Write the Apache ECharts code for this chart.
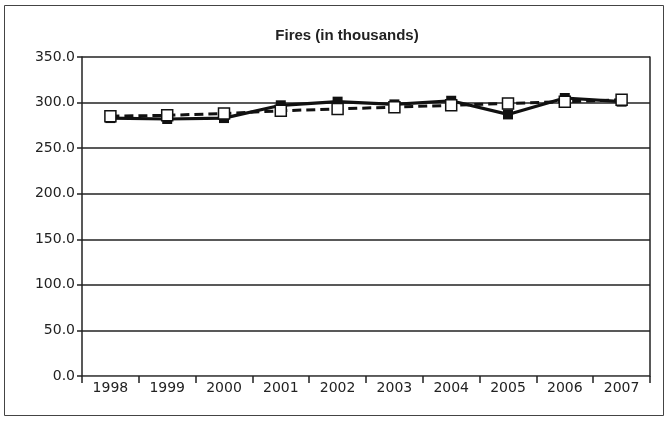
<!DOCTYPE html>
<html>
<head>
<meta charset="utf-8">
<script src="https://cdn.jsdelivr.net/npm/echarts@6/dist/echarts.min.js"></script>
<style>html,body{margin:0;padding:0;background:#fff}#c{width:668px;height:421px}</style>
</head>
<body>
<div id="c"></div>
<script>
const titleText = 'Fires (in thousands)';
const years = ['1998','1999','2000','2001','2002','2003','2004','2005','2006','2007'];
const firesActual = [283, 282, 283, 297, 301, 298, 302, 287, 305, 301];
const firesTrend = [285, 286, 288, 291, 293, 295, 297, 299, 301, 303];
const yMin = 0, yMax = 350, yStep = 50;

const chart = echarts.init(document.getElementById('c'), null, {renderer: 'canvas'});
const font = 'DejaVu Sans';
chart.setOption({
  animation: false,
  backgroundColor: '#fff',
  title: {
    text: titleText, left: 342, top: 23, textAlign: 'center',
    textStyle: {fontFamily: 'Liberation Sans', fontSize: 15, fontWeight: 'bold', color: '#222'}
  },
  graphic: [{
    type: 'rect', shape: {x: 4.5, y: 5.5, width: 659, height: 410},
    style: {fill: 'none', stroke: '#444', lineWidth: 1}, silent: true, z: -1
  }],
  grid: {left: 82, right: 18, top: 57, bottom: 45, show: false},
  xAxis: {
    type: 'category', data: years, boundaryGap: true,
    axisLine: {show: true, lineStyle: {color: '#666', width: 1}},
    axisTick: {show: true, inside: false, length: 7, alignWithLabel: false, lineStyle: {color: '#222', width: 1.5}},
    axisLabel: {fontFamily: font, fontSize: 14, color: '#222', margin: 5},
    splitLine: {show: false}
  },
  yAxis: [{
    type: 'value', min: yMin, max: yMax, interval: yStep,
    axisLine: {show: true, lineStyle: {color: '#222', width: 1.5}},
    axisTick: {show: true, length: 5, lineStyle: {color: '#222', width: 1.5}},
    axisLabel: {fontFamily: font, fontSize: 14, color: '#222', margin: 7,
      formatter: v => v.toFixed(1)},
    splitLine: {show: true, lineStyle: {color: '#222', width: 1.5}}
  }, {
    type: 'value', position: 'right', min: yMin, max: yMax, interval: yStep,
    axisLine: {show: true, lineStyle: {color: '#222', width: 1.5}},
    axisTick: {show: false}, axisLabel: {show: false}, splitLine: {show: false}
  }],
  series: [{
    name: 'Actual', type: 'line', data: firesActual,
    symbol: 'rect', symbolSize: 10, showAllSymbol: true,
    itemStyle: {color: '#111', borderColor: '#111', borderWidth: 0},
    lineStyle: {color: '#111', width: 3.2}, z: 3
  }, {
    name: 'Trend', type: 'line', data: firesTrend,
    symbol: 'rect', symbolSize: 11, showAllSymbol: true,
    itemStyle: {color: '#fff', borderColor: '#111', borderWidth: 1.5},
    lineStyle: {color: '#111', width: 3, type: [9, 5]}, z: 4
  }]
});
</script>
</body>
</html>
